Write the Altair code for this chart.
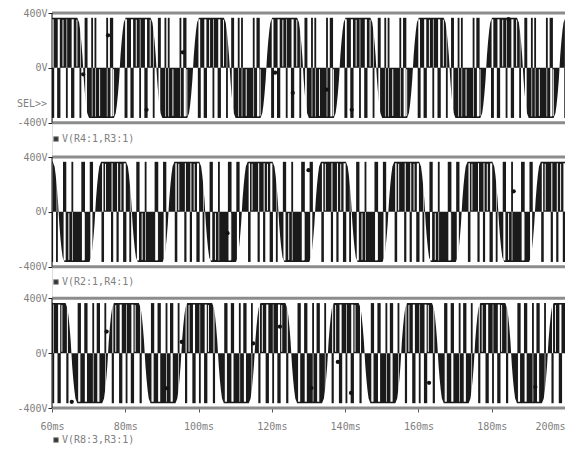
import altair as alt
import pandas as pd

T_START, T_END = 60, 200
LEVEL = 365  # switching level of the traces (V)

TRACE_NAMES = ["V(R4:1,R3:1)", "V(R2:1,R4:1)", "V(R8:3,R3:1)"]
X_TICKS = [60, 80, 100, 120, 140, 160, 180, 200]
Y_TICKS = [400, 0, -400]

# rising zero crossings of each trace (ms)
RISE_1 = [38.5, 58.5, 78.5, 98.5, 118.5, 138.5, 158.5, 178.5, 198.5]
RISE_2 = [31.8, 51.8, 71.8, 91.8, 111.8, 131.8, 151.8, 171.8, 191.8]
RISE_3 = [35.3, 55.3, 75.3, 95.3, 115.3, 135.3, 155.3, 175.3, 195.3]

# envelope of the dense switching within one half cycle (offset ms, |V|)
ENV_U = [0.0, 0.2, 0.5, 0.8, 1.1, 1.6, 8.4, 8.9, 9.2, 9.5, 9.8, 10.0]
ENV_V = [0, 90, 190, 270, 330, 365, 365, 330, 270, 190, 90, 0]

# reverse pulses inside positive / negative half cycles: (offset ms, width ms)
POS_1 = [(1.3, 0.8), (2.9, 0.9), (5.3, 0.5), (6.7, 0.9), (9.0, 0.5)]
NEG_1 = [(0.4, 0.8), (2.2, 0.5), (3.1, 0.5), (6.3, 0.5), (7.3, 0.9)]
POS_2 = [(1.7, 0.7), (4.3, 0.6), (5.8, 0.6), (7.6, 0.9), (9.3, 0.5)]
NEG_2 = [(1.2, 0.9), (3.5, 0.5), (6.2, 1.0), (8.5, 0.9)]
POS_3 = [(1.0, 0.6), (3.0, 0.9), (4.8, 0.5), (6.2, 0.9), (8.6, 0.6)]
NEG_3 = [(1.7, 0.9), (3.5, 0.9), (5.7, 0.5), (6.9, 0.9), (9.0, 0.5)]

# thin light streaks inside the dense (dark) part of each half cycle (offset ms)
STREAK_1 = [4.5, 8.3]
STREAK_2 = [2.8, 7.0]
STREAK_3 = [2.1, 7.4]

# trace markers (ms, V)
DOT_T_1 = [68.5, 75.3, 85.8, 95.7, 120.9, 125.7, 135.0, 141.8, 184.6]
DOT_V_1 = [-47, 237, -306, 113, -35, -183, -158, -306, 355]
DOT_T_2 = [107.9, 130.0, 186.0]
DOT_V_2 = [-155, 304, 150]
DOT_T_3 = [65.4, 74.9, 91.3, 95.4, 114.9, 122.2, 130.8, 138.0, 141.6, 162.9, 191.9]
DOT_V_3 = [-355, 157, -256, 82, 71, 193, -255, -64, -290, -216, -246]

# ---- layout: the three panels share one vertical scale, each shifted ----
OFFSET = [0, -1050, -2080]
Y_DOMAIN = [-2480, 400]

rises = [RISE_1, RISE_2, RISE_3]
pos_p = [POS_1, POS_2, POS_3]
neg_p = [NEG_1, NEG_2, NEG_3]
streaks = [STREAK_1, STREAK_2, STREAK_3]
dots_t = [DOT_T_1, DOT_T_2, DOT_T_3]
dots_v = [DOT_V_1, DOT_V_2, DOT_V_3]

env_tables, black_rows, white_rows, thin_rows, dot_rows, frame_rows = [], [], [], [], [], []
for p in range(3):
    off = OFFSET[p]
    rows = []
    for r in rises[p]:
        for sign, start in ((1, r), (-1, r + 10)):
            for u, v in zip(ENV_U, ENV_V):
                rows.append({"t": start + u, "v": off + sign * v, "base": off})
    env_tables.append(pd.DataFrame(rows))
    for r in rises[p]:
        for sign, start, pulses in ((1, r, pos_p[p]), (-1, r + 10, neg_p[p])):
            for u, w in pulses:
                black_rows.append({"t0": start + u, "t1": start + u + w,
                                   "y0": off, "y1": off - sign * LEVEL})
                white_rows.append({"t0": start + u, "t1": start + u + w,
                                   "y0": off, "y1": off + sign * LEVEL * 0.97})
            for u in streaks[p]:
                thin_rows.append({"t": start + u, "y0": off + sign * 10,
                                  "y1": off + sign * LEVEL * 0.96})
    for t, v in zip(dots_t[p], dots_v[p]):
        dot_rows.append({"t": t, "v": off + v})
    frame_rows.append({"t0": T_START, "t1": T_END, "top": off + 400, "bot": off - 400})

blacks = pd.DataFrame(black_rows)
whites = pd.DataFrame(white_rows)
thins = pd.DataFrame(thin_rows)
dots = pd.DataFrame(dot_rows)
frames = pd.DataFrame(frame_rows)

MONO = "DejaVu Sans Mono"
INK = "#1a1a1a"
XS = alt.Scale(domain=[T_START, T_END], nice=False, zero=False)
YS = alt.Scale(domain=Y_DOMAIN, nice=False, zero=False)

y_vals = [v + o for o in OFFSET for v in Y_TICKS]
XA = alt.Axis(values=X_TICKS, labelExpr="datum.value + 'ms'", title=None, grid=False,
              domain=False, tickSize=4, tickColor="#555", labelFont=MONO, labelFontSize=10,
              labelColor="#808080", labelPadding=9,
              labelAlign={"condition": {"test": "datum.value >= 200", "value": "right"},
                          "value": "center"})
YA = alt.Axis(values=y_vals,
              labelExpr="datum.value > -500 ? datum.value + 'V' : (datum.value > -1600 ? "
                        "(datum.value + 1050) + 'V' : (datum.value + 2080) + 'V')",
              title=None, grid=False, domain=False, tickSize=4, tickColor="#222",
              labelFont=MONO, labelFontSize=10, labelColor="#808080", labelPadding=1)


def X(f):
    return alt.X(f, type="quantitative", scale=XS, axis=XA)


def Y(f):
    return alt.Y(f, type="quantitative", scale=YS, axis=YA, stack=None)


areas = [
    alt.Chart(df).mark_area(fill=INK, opacity=1, clip=True).encode(
        x=X("t"), y=Y("v"), y2=alt.Y2("base"))
    for df in env_tables
]

gaps = alt.Chart(whites).mark_rect(color="white", clip=True, xOffset=0.6, x2Offset=-0.6).encode(
    x=X("t0"), x2="t1:Q", y=Y("y0"), y2="y1:Q")

thin = alt.Chart(thins).mark_rule(color="#f0f0f0", strokeWidth=1, clip=True).encode(
    x=X("t"), y=Y("y0"), y2="y1:Q")

bars = alt.Chart(blacks).mark_rect(color=INK, clip=True).encode(
    x=X("t0"), x2="t1:Q", y=Y("y0"), y2="y1:Q")

pts = alt.Chart(dots).mark_circle(color="#111", size=18, opacity=1, clip=True).encode(
    x=X("t"), y=Y("v"))

top_line = alt.Chart(frames).mark_rule(color="#8c8c8c", strokeWidth=3).encode(
    x=X("t0"), x2="t1:Q", y=Y("top"))
bot_line = alt.Chart(frames).mark_rule(color="#8c8c8c", strokeWidth=3).encode(
    x=X("t0"), x2="t1:Q", y=Y("bot"))
left_line = alt.Chart(frames).mark_rule(color="#111", strokeWidth=1).encode(
    x=X("t0"), y=Y("top"), y2="bot:Q")

legend_df = pd.DataFrame({"name": TRACE_NAMES, "py": [126, 269, 427]})
leg_sq = alt.Chart(legend_df).mark_square(size=22, color="#333", stroke="#999",
                                          strokeWidth=1, opacity=1).encode(
    x=alt.value(4), y=alt.Y("py:Q", scale=None, axis=None))
leg_txt = alt.Chart(legend_df).mark_text(align="left", baseline="middle", font=MONO,
                                         fontSize=10, color="#808080").encode(
    x=alt.value(10), y=alt.Y("py:Q", scale=None, axis=None), text="name:N")

sel = alt.Chart(pd.DataFrame({"s": ["SEL>>"]})).mark_text(
    align="right", baseline="middle", font=MONO, fontSize=10, color="#808080").encode(
    x=alt.value(-5), y=alt.value(91), text="s:N")

chart = alt.layer(*areas, gaps, thin, bars, top_line, bot_line, left_line, pts,
                  leg_sq, leg_txt, sel).properties(
    width=513, height=395,
    autosize=alt.AutoSizeParams(type="none"),
    padding={"left": 52, "top": 13, "right": 0, "bottom": 42},
).configure_view(stroke=None).configure(background="white")

chart.save("out.html", embed_options={"renderer": "svg", "actions": False})
